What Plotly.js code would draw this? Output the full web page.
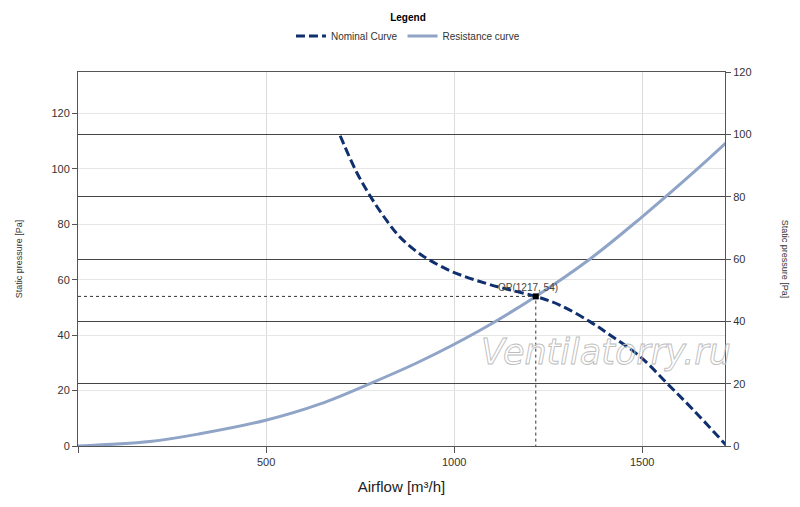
<!DOCTYPE html>
<html>
<head>
<meta charset="utf-8">
<script src="https://cdn.plot.ly/plotly-3.0.1.min.js"></script>
<style>
  html, body { margin: 0; padding: 0; background: #fff; }
  #chart { width: 800px; height: 507px; }
</style>
</head>
<body>
<div id="chart"></div>
<script>
// Nominal fan curve, airflow [m3/h] vs static pressure [Pa]
const nominalFlow = [697, 740, 781, 820, 856, 900, 936, 997, 1087, 1150, 1217, 1282, 1362, 1415, 1495, 1566, 1636, 1725];
const nominalPressure = [112, 99, 89.3, 81.5, 75.4, 70.2, 67, 62.8, 58.6, 56.3, 54, 50.8, 44.8, 40, 32.2, 22.6, 13, 0];

// System resistance curve
const resistanceFlow = [0, 191, 324, 499, 644, 781, 910, 1069, 1217, 1362, 1495, 1640, 1725];
const resistancePressure = [0, 1.6, 4.4, 9.3, 15.2, 22.8, 30.6, 41.8, 54, 67.6, 82.2, 99.2, 109.7];

// Operating point
const opFlow = 1217;
const opPressure = 54;

const xTicks = [0, 500, 1000, 1500];
const xTickText = ['', '500', '1000', '1500'];
const yTicks = [0, 20, 40, 60, 80, 100, 120];

const font = 'Liberation Sans, Arial, sans-serif';

const traces = [
  {
    x: nominalFlow, y: nominalPressure,
    type: 'scatter', mode: 'lines', name: 'Nominal Curve',
    line: {color: '#0f2f6e', width: 3, dash: '9px,4px', shape: 'spline'}
  },
  {
    x: resistanceFlow, y: resistancePressure,
    type: 'scatter', mode: 'lines', name: 'Resistance curve',
    line: {color: '#8fa4c6', width: 3, shape: 'spline'}
  },
  {
    x: [0, opFlow, opFlow], y: [opPressure, opPressure, 0],
    type: 'scatter', mode: 'lines', showlegend: false, hoverinfo: 'skip',
    line: {color: '#333', width: 1, dash: 'dot'}
  },
  {
    x: [opFlow], y: [opPressure],
    type: 'scatter', mode: 'markers', showlegend: false,
    marker: {color: '#000', size: 6, symbol: 'square'}
  },
  {
    // invisible trace so the right axis is drawn
    x: [0], y: [0], yaxis: 'y2', type: 'scatter', mode: 'markers',
    showlegend: false, hoverinfo: 'skip', marker: {opacity: 0}
  }
];

const layout = {
  width: 800,
  height: 507,
  paper_bgcolor: '#fff',
  plot_bgcolor: '#fff',
  margin: {l: 78, r: 75, t: 72, b: 61, autoexpand: false},
  font: {family: font, size: 11, color: '#333'},
  showlegend: true,
  legend: {
    orientation: 'h',
    x: 0.51, xanchor: 'center',
    y: 1.17, yanchor: 'top',
    font: {size: 10, color: '#333'},
    title: {text: '<b>Legend</b>', side: 'top center', font: {size: 10, color: '#000'}},
    itemwidth: 30,
    tracegroupgap: 0
  },
  xaxis: {
    range: [0, 1720],
    tickvals: xTicks,
    ticktext: xTickText,
    ticks: 'outside', ticklen: 6, tickcolor: '#555',
    showgrid: true, gridcolor: '#dcdcdc', gridwidth: 1,
    zeroline: false,
    showline: true, linecolor: '#555', linewidth: 1, mirror: true,
    title: {text: 'Airflow [m³/h]', font: {size: 15, color: '#222'}, standoff: 14}
  },
  yaxis: {
    range: [0, 135],
    tickvals: yTicks,
    ticks: 'outside', ticklen: 5, tickcolor: '#555',
    showgrid: true, gridcolor: '#e6e6e6', gridwidth: 1,
    zeroline: false,
    showline: true, linecolor: '#555', linewidth: 1,
    title: {text: 'Static pressure [Pa]', font: {size: 9, color: '#333'}, standoff: 27}
  },
  yaxis2: {
    range: [0, 120],
    tickvals: yTicks,
    overlaying: 'y', side: 'right',
    ticks: 'outside', ticklen: 5, tickcolor: '#555',
    showgrid: true, gridcolor: '#444', gridwidth: 1,
    zeroline: false,
    showline: true, linecolor: '#555', linewidth: 1
  },
  annotations: [
    {
      x: opFlow, y: opPressure, xref: 'x', yref: 'y',
      text: 'OP(1217, 54)', showarrow: false,
      xanchor: 'center', yanchor: 'bottom', xshift: -8, yshift: 1,
      font: {size: 10, color: '#444'}
    },
    {
      xref: 'paper', yref: 'paper', x: 1.093, y: 0.5,
      xanchor: 'center', yanchor: 'middle',
      text: 'Static pressure [Pa]', showarrow: false, textangle: 90,
      font: {size: 9, color: '#333'}
    },
    {
      xref: 'paper', yref: 'paper', x: 0.816, y: 0.251,
      xanchor: 'center', yanchor: 'middle',
      text: 'Ventilatorry.ru', showarrow: false,
      font: {family: 'DejaVu Sans, Verdana, sans-serif', size: 35, style: 'italic', color: '#c4c4c4'}
    }
  ]
};

Plotly.newPlot('chart', traces, layout, {displayModeBar: false, staticPlot: true}).then(function (gd) {
  // hollow, outlined watermark like the original
  gd.querySelectorAll('.annotation-text').forEach(function (el) {
    if (el.textContent.indexOf('Ventilatorry') !== -1) {
      el.style.setProperty('fill', 'none');
      el.style.setProperty('stroke', '#bdbdbd');
      el.style.setProperty('stroke-width', '0.9px');
    }
  });
});
</script>
</body>
</html>
